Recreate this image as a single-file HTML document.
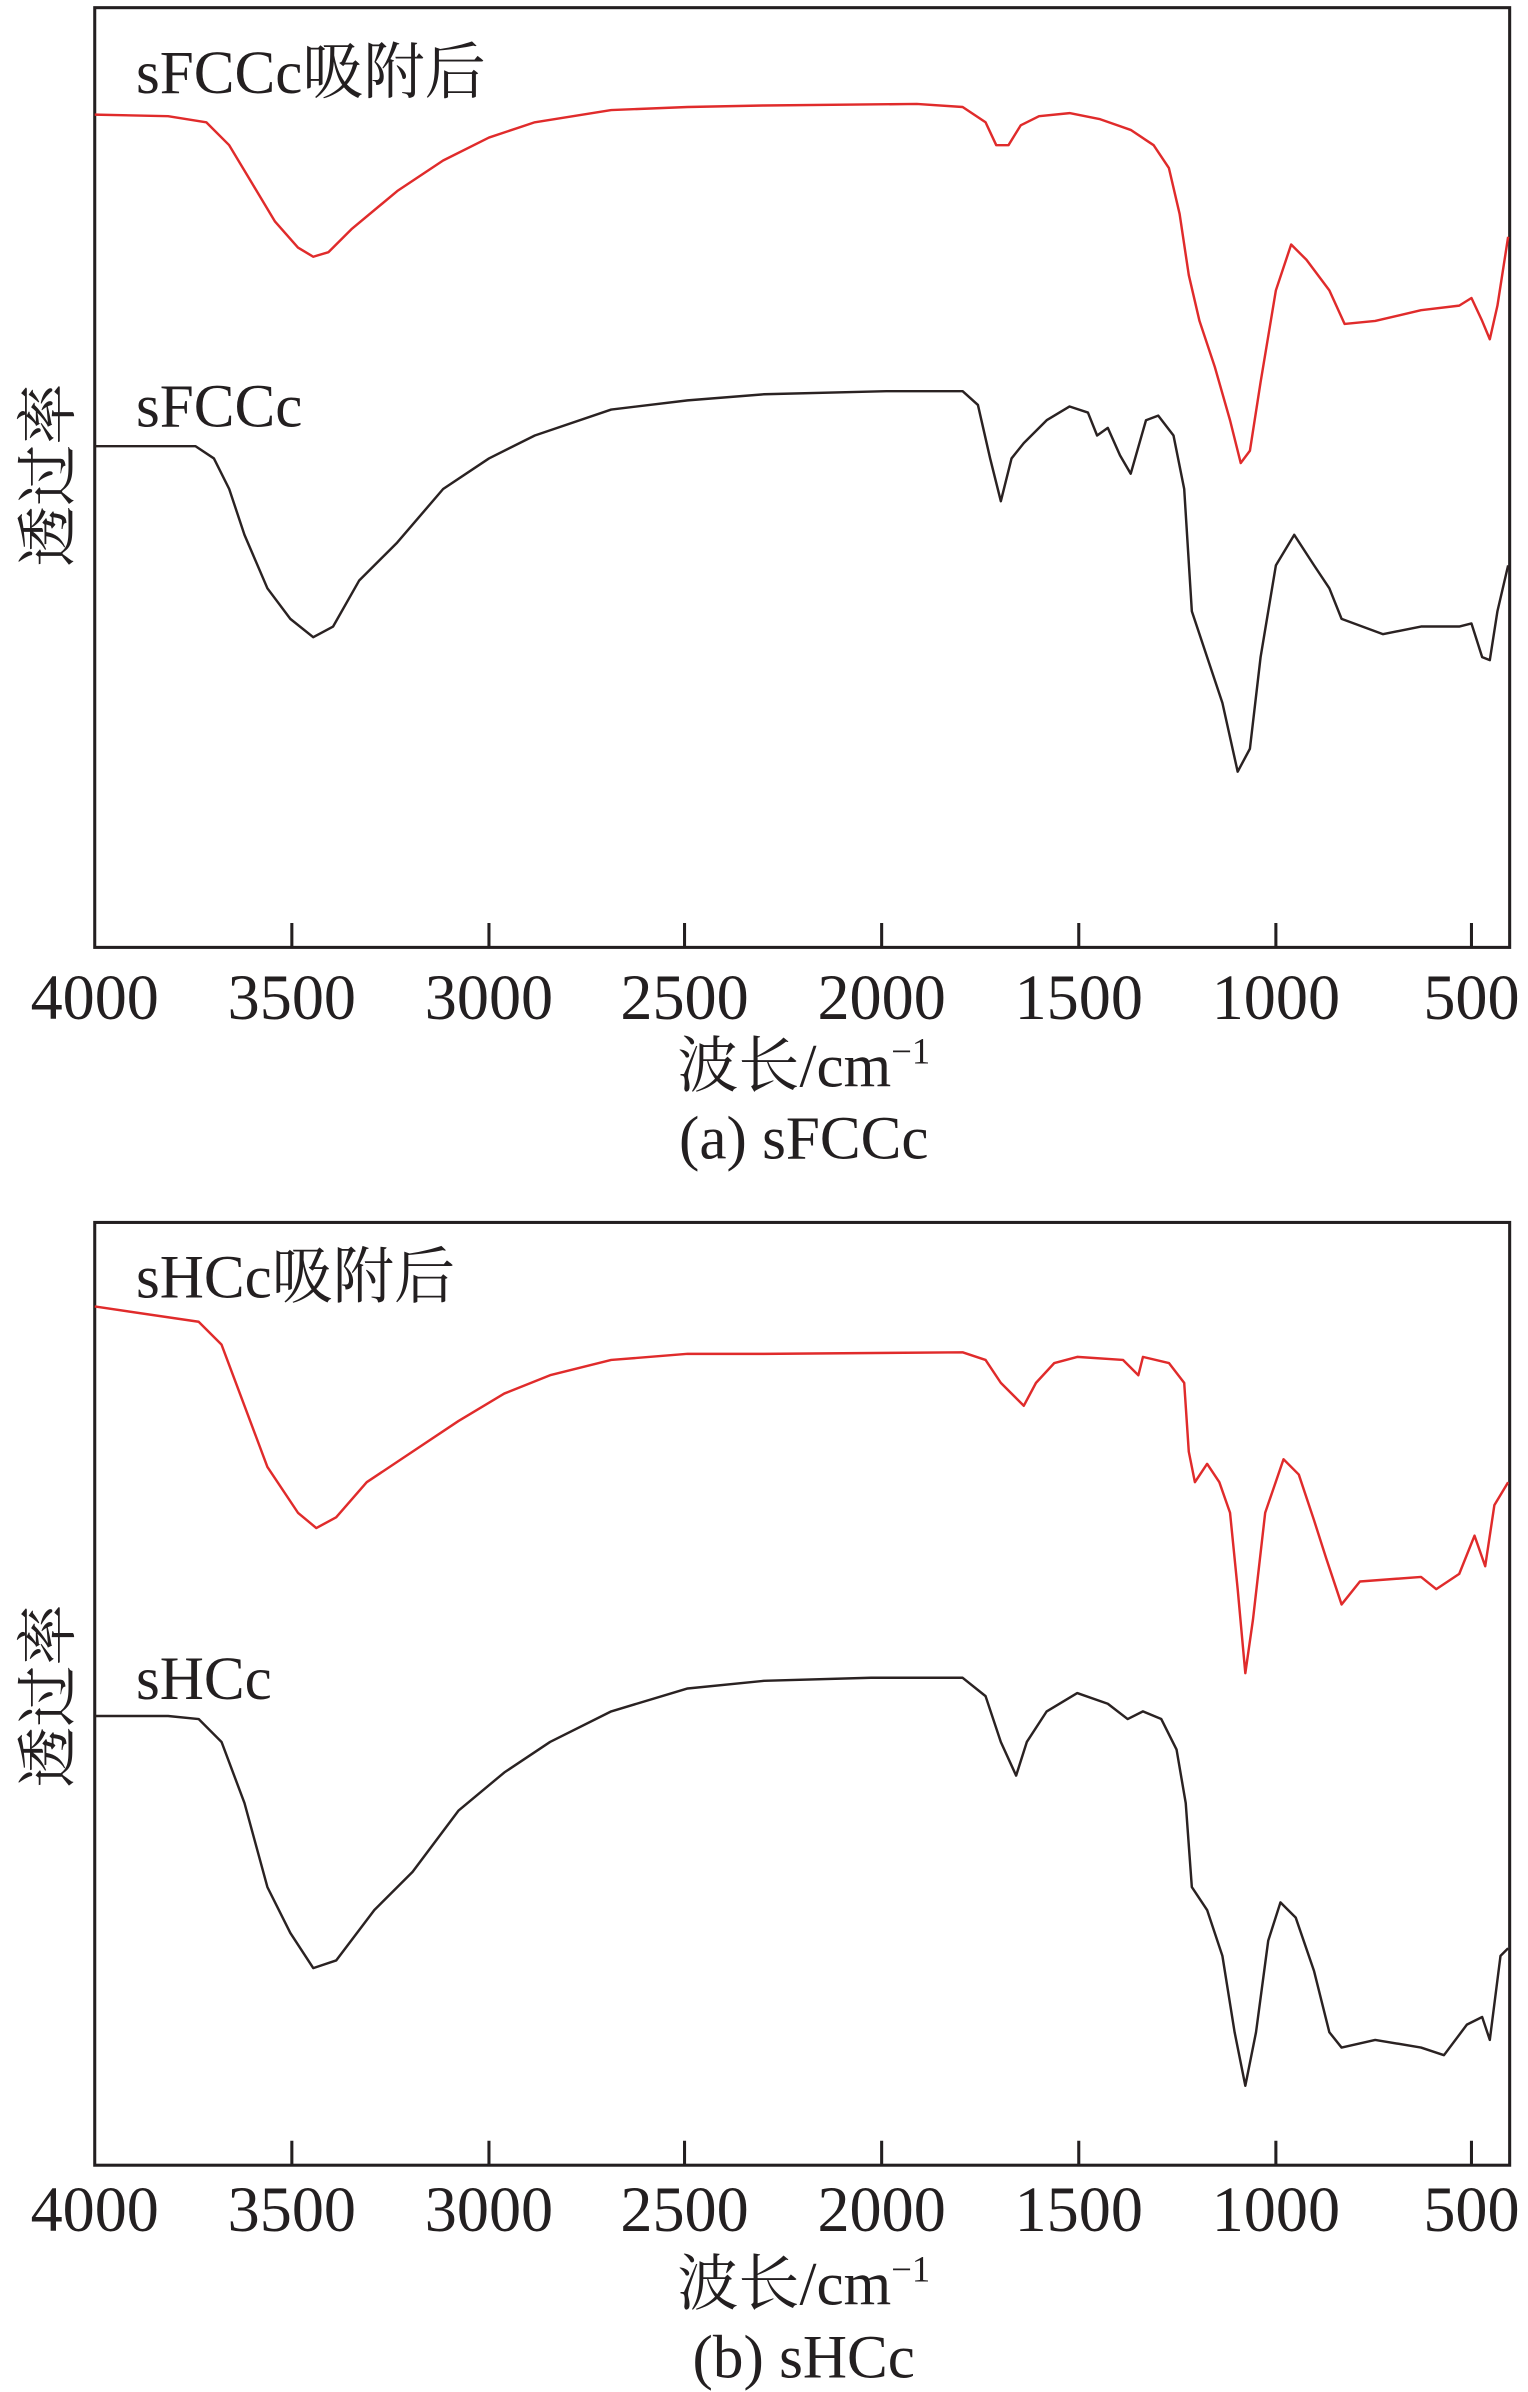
<!DOCTYPE html>
<html><head><meta charset="utf-8"><style>
html,body{margin:0;padding:0;background:#fff}
svg{display:block}
text{font-family:"Liberation Serif","Noto Serif CJK SC",serif;fill:#231f20}
</style></head><body>
<svg width="1528" height="2392" viewBox="0 0 1000 1565.4" xmlns="http://www.w3.org/2000/svg">
<g fill="none" stroke="#231f20" stroke-width="2">
<rect x="62" y="5" width="926" height="615"/>
<rect x="62" y="800" width="926" height="617"/>
<path d="M191 620v-16M320 620v-16M448 620v-16M577 620v-16M706 620v-16M835 620v-16M963 620v-16"/>
<path d="M191 1417v-16M320 1417v-16M448 1417v-16M577 1417v-16M706 1417v-16M835 1417v-16M963 1417v-16"/>
</g>
<g fill="none" stroke-width="1.6" stroke-linejoin="round">
<polyline stroke="#e02b2b" points="62,75 110,76 135,80 150,95 165,120 180,145 195,162 205,168 215,165 230,150 260,125 290,105 320,90 350,80 400,72 450,70 500,69 600,68 630,70 645,80 652,95 660,95 668,82 680,76 700,74 720,78 740,85 755,95 765,110 772,140 778,180 785,210 795,240 805,275 812,303 818,295 825,250 835,190 845,160 855,170 870,190 880,212 900,210 930,203 955,200 963,195 970,210 975,222 980,200 987,155"/>
<polyline stroke="#2a2222" points="62,292 128,292 140,300 150,320 160,350 175,385 190,405 205,417 218,410 235,380 260,355 290,320 320,300 350,285 400,268 450,262 500,258 580,256 630,256 640,265 648,300 655,328 662,300 670,290 685,275 700,266 712,270 718,285 725,280 733,298 740,310 750,275 758,272 768,285 775,320 780,400 790,430 800,460 810,505 818,490 825,430 835,370 847,350 860,370 870,385 878,405 905,415 930,410 955,410 963,408 970,430 975,432 980,400 987,370"/>
<polyline stroke="#e02b2b" points="62,855 130,865 145,880 160,920 175,960 195,990 207,1000 220,993 240,970 270,950 300,930 330,912 360,900 400,890 450,886 500,886 630,885 645,890 655,905 670,920 678,905 690,892 705,888 735,890 745,900 748,888 765,892 775,905 778,950 782,970 790,958 798,970 805,990 810,1040 815,1095 820,1060 828,990 840,955 850,965 860,995 868,1020 878,1050 890,1035 930,1032 940,1040 955,1030 965,1005 972,1025 978,985 987,970"/>
<polyline stroke="#2a2222" points="62,1123 110,1123 130,1125 145,1140 160,1180 175,1235 190,1265 205,1288 220,1283 245,1250 270,1225 300,1185 330,1160 360,1140 400,1120 450,1105 500,1100 570,1098 630,1098 645,1110 655,1140 665,1162 672,1140 685,1120 705,1108 725,1115 738,1125 748,1120 760,1125 770,1145 776,1180 780,1235 790,1250 800,1280 808,1330 815,1365 822,1330 830,1270 838,1245 848,1255 860,1290 870,1330 878,1340 900,1335 930,1340 945,1345 960,1325 970,1320 975,1335 982,1280 987,1275"/>
</g>
<g font-size="40">
<text x="89" y="61">sFCCc吸附后</text>
<text x="89" y="279">sFCCc</text>
<text x="89" y="849">sHCc吸附后</text>
<text x="89" y="1112">sHCc</text>
</g>
<g font-size="42" text-anchor="middle">
<text x="62" y="667">4000</text><text x="191" y="667">3500</text><text x="320" y="667">3000</text><text x="448" y="667">2500</text><text x="577" y="667">2000</text><text x="706" y="667">1500</text><text x="835" y="667">1000</text><text x="963" y="667">500</text>
<text x="62" y="1460">4000</text><text x="191" y="1460">3500</text><text x="320" y="1460">3000</text><text x="448" y="1460">2500</text><text x="577" y="1460">2000</text><text x="706" y="1460">1500</text><text x="835" y="1460">1000</text><text x="963" y="1460">500</text>
</g>
<g font-size="40" text-anchor="middle">
<text x="526" y="711">波长/cm<tspan font-size="24" dy="-15">−1</tspan></text>
<text x="526" y="758">(a) sFCCc</text>
<text x="526" y="1508">波长/cm<tspan font-size="24" dy="-15">−1</tspan></text>
<text x="526" y="1556">(b) sHCc</text>
<text transform="translate(45,311) rotate(-90)">透过率</text>
<text transform="translate(45,1110) rotate(-90)">透过率</text>
</g>
</svg>
</body></html>
